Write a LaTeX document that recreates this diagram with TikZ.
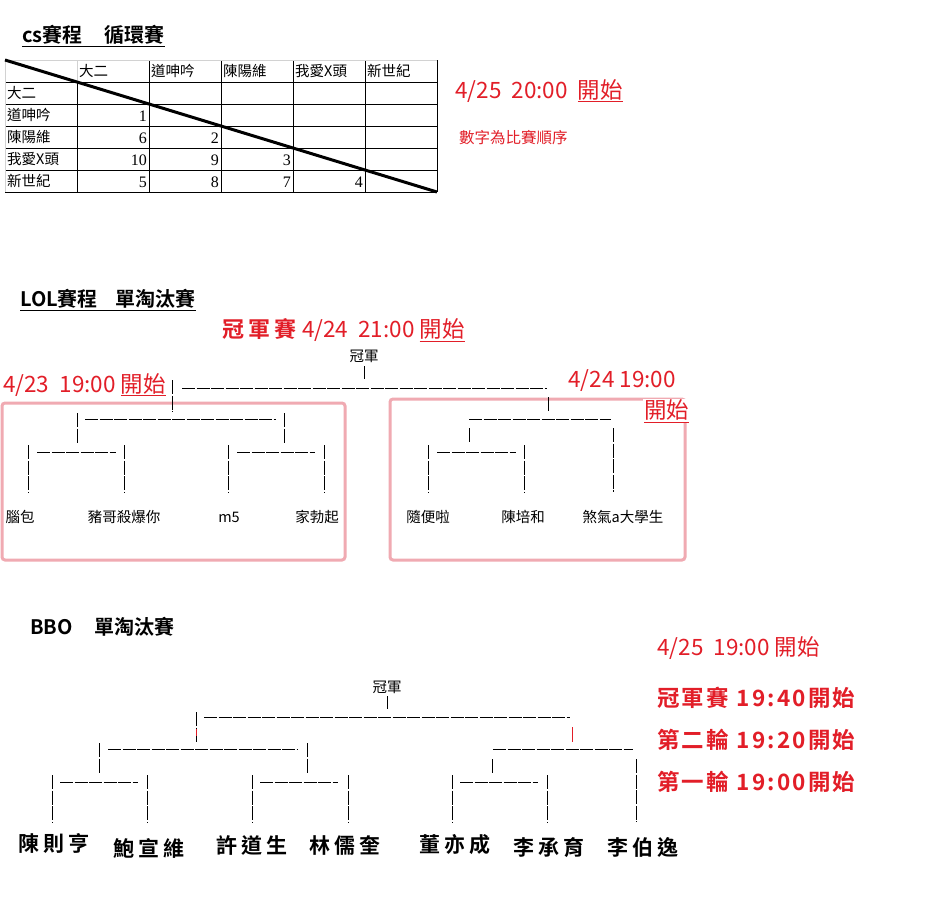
\documentclass[tikz,border=0pt]{standalone}
\usepackage{fontspec}
\setmainfont{Noto Sans CJK TC}[BoldFont={Noto Sans CJK TC Bold}]
\newfontfamily\spaced{Noto Sans CJK TC Bold}[LetterSpace=20]
\newfontfamily\spacedtime{Noto Sans CJK TC Bold}[LetterSpace=10]
\newfontfamily\numfont{Liberation Serif}
\definecolor{schedred}{RGB}{226,30,40}
\definecolor{boxpink}{RGB}{240,170,178}

\tikzset{
  every node/.style={inner sep=0pt},
  hbar/.style={line width=1pt, dash pattern=on 13pt off 1.5pt},
  vbar/.style={line width=1pt, dash pattern=on 14pt off 1.6pt},
  grid/.style={line width=0.9pt},
  cell/.style={font=\fontsize{14.5}{16}\selectfont},
  player/.style={font=\fontsize{14.5}{16}\selectfont},
  bigplayer/.style={font=\spaced\fontsize{21}{24}\selectfont},
  title/.style={anchor=west, font=\bfseries\fontsize{20}{24}\selectfont},
  redtime/.style={anchor=west, text=schedred, font=\fontsize{22.5}{26}\selectfont},
  redround/.style={anchor=west, text=schedred, font=\spacedtime\fontsize{22.5}{26}\selectfont},
  groupbox/.style={draw=boxpink, line width=3pt, rounded corners=3pt}
}

\begin{document}
\begin{tikzpicture}[x=1pt,y=-1pt]
  \useasboundingbox[fill=white] (0,0) rectangle (939,911);

  % CS round robin
  \node[title] (cstitle) at (22,36) {\underline{cs賽程\hspace{1.1em}循環賽}};

  % Table grid
  \foreach \y in {82,104,...,192}
    \draw[grid] (5,\y) -- (437,\y);
  \foreach \x in {149,221,...,437}
    \draw[grid] (\x,60) -- (\x,192);
  \draw[grid] (77,82) -- (77,192);
  \draw[grid, gray!35] (5,60) -- (437,60);
  \draw[grid, gray!35] (5,60) -- (5,192);
  \draw[grid, gray!35] (77,60) -- (77,82);
  \draw[line width=3pt] (5,60) -- (437,192);

  % Team names
  \foreach \n/\t in {1/大二, 2/道呻吟, 3/陳陽維, 4/我愛X頭, 5/新世紀} {
    \node[cell, anchor=west] (col\n) at ({79+72*(\n-1)},71) {\t};
    \node[cell, anchor=west] (row\n) at (7,{93+22*(\n-1)}) {\t};
  }

  % Match order
  \foreach \r/\c/\v in {2/1/1, 3/1/6, 3/2/2, 4/1/10, 4/2/9, 4/3/3,
                        5/1/5, 5/2/8, 5/3/7, 5/4/4}
    \node[anchor=east, font=\numfont\fontsize{16}{18}\selectfont]
      (m\r\c) at ({147+72*(\c-1)},{94+22*(\r-1)}) {\v};

  \node[redtime] (cstime) at (455,91) {4/25\ \ 20:00\ \ \underline{開始}};
  \node[anchor=west, text=schedred, font=\fontsize{15.5}{17}\selectfont]
    (csnote) at (459,138) {數字為比賽順序};

  % LOL knockout
  \node[title] (loltitle) at (20,300) {\underline{LOL賽程\hspace{0.9em}單淘汰賽}};
  \node[redtime] (lolfinal) at (222,330)
    {{\spaced\fontsize{22}{25}\selectfont 冠軍賽}\ 4/24\ \ 21:00\ \underline{開始}};
  \node[redtime] (lolleft) at (3,385) {4/23\ \ 19:00\ \underline{開始}};
  \node[redtime] (lolright) at (568,381) {4/24 19:00};

  % Groups
  \draw[groupbox] (2,403) rectangle (345,560);
  \draw[groupbox] (390,399) rectangle (685,560);
  \node[redtime, fill=white, inner sep=1pt] (lolstart) at (643,411) {\underline{開始}};

  \node[player] (lolchamp) at (364,356) {冠軍};
  \draw[vbar] (364,366) -- (364,379);
  \draw[hbar] (182,388) -- (547,388);
  \draw[vbar] (172,380) -- (172,412);
  \draw[vbar] (548,397) -- (548,412);

  % Left half
  \draw[vbar] (77,413) -- (77,443);
  \draw[hbar] (85,419) -- (276,419);
  \draw[vbar] (284,413) -- (284,443);
  \draw[vbar] (28,445) -- (28,492);
  \draw[hbar] (37,452) -- (116,452);
  \draw[vbar] (124,445) -- (124,492);
  \draw[vbar] (228,445) -- (228,492);
  \draw[hbar] (237,452) -- (315,452);
  \draw[vbar] (324,445) -- (324,492);

  % Right half
  \draw[hbar] (469,419) -- (611,419);
  \draw[vbar] (469,428) -- (469,443);
  \draw[vbar] (613,428) -- (613,492);
  \draw[vbar] (428,445) -- (428,492);
  \draw[hbar] (437,452) -- (516,452);
  \draw[vbar] (524,445) -- (524,492);

  \foreach \n/\x/\t in {1/20/腦包, 2/124/豬哥殺爆你, 3/229/m5, 4/317/家勃起,
                        5/428/隨便啦, 6/523/陳培和, 7/623/煞氣a大學生}
    \node[player] (lol\n) at (\x,517) {\t};

  % BBO knockout
  \node[title] (bbotitle) at (30,627) {BBO\hspace{1.1em}單淘汰賽};

  \node[player] (bbochamp) at (387,687) {冠軍};
  \draw[vbar] (387,696) -- (387,709);
  \draw[hbar] (204,717) -- (570,717);
  \draw[vbar] (196,712) -- (196,742);
  \draw[line width=1pt, schedred] (196,729) -- (196,736);
  \draw[line width=1pt, schedred] (572,727) -- (572,742);

  % Left half
  \draw[vbar] (99,743) -- (99,773);
  \draw[hbar] (108,749) -- (298,749);
  \draw[vbar] (307,743) -- (307,773);
  \draw[vbar] (52,775) -- (52,822);
  \draw[hbar] (60,782) -- (138,782);
  \draw[vbar] (147,775) -- (147,822);
  \draw[vbar] (252,775) -- (252,822);
  \draw[hbar] (260,782) -- (338,782);
  \draw[vbar] (348,775) -- (348,822);

  % Right half
  \draw[hbar] (493,749) -- (633,749);
  \draw[vbar] (492,759) -- (492,774);
  \draw[vbar] (636,759) -- (636,822);
  \draw[vbar] (452,775) -- (452,822);
  \draw[hbar] (460,782) -- (538,782);
  \draw[vbar] (547,775) -- (547,822);

  \foreach \n/\x/\y/\t in {1/54/843/陳則亨, 2/149/848/鮑宣維, 3/252/845/許道生,
                           4/345/845/林儒奎, 5/455/845/董亦成, 6/549/847/李承育,
                           7/643/847/李伯逸}
    \node[bigplayer] (bbo\n) at (\x,\y) {\t};

  % Times
  \node[redtime] (bbotime) at (657,648) {4/25\ \ 19:00 開始};
  \node[redround] (round3) at (657,698) {冠軍賽\ 19:40開始};
  \node[redround] (round2) at (657,740) {第二輪\ 19:20開始};
  \node[redround] (round1) at (657,782) {第一輪\ 19:00開始};
\end{tikzpicture}
\end{document}
